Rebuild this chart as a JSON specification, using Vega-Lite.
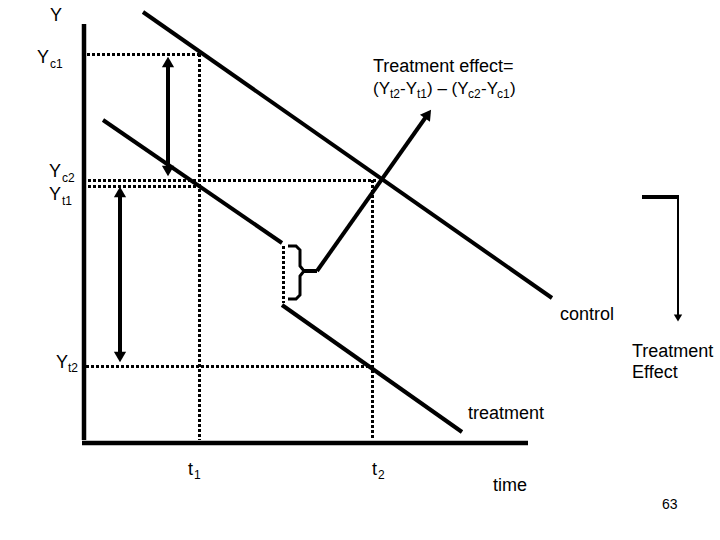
{
  "$schema": "https://vega.github.io/schema/vega-lite/v6.json",
  "width": 720,
  "height": 540,
  "padding": 0,
  "autosize": {"type": "fit", "contains": "padding"},
  "background": "white",
  "config": {"view": {"stroke": null}, "text": {"font": "Liberation Sans", "color": "black", "align": "left", "baseline": "alphabetic"}},
  "datasets": {
    "solid": [
      {"name": "control", "x": 143, "y": 12, "x2": 552, "y2": 298},
      {"name": "treatment pre", "x": 103, "y": 120, "x2": 282, "y2": 243},
      {"name": "treatment post", "x": 282, "y": 305, "x2": 462, "y2": 432},
      {"name": "arrow c", "x": 168, "y": 62, "x2": 168, "y2": 171},
      {"name": "arrow t", "x": 120, "y": 192, "x2": 120, "y2": 357},
      {"name": "effect arrow", "x": 317, "y": 271, "x2": 428, "y2": 114},
      {"name": "brace tick", "x": 303, "y": 271, "x2": 317, "y2": 271},
      {"name": "right bar", "x": 642, "y": 197, "x2": 679, "y2": 197}
    ],
    "thin": [
      {"name": "right arrow", "x": 678, "y": 197, "x2": 678, "y2": 317}
    ],
    "axes": [
      {"name": "y axis", "x": 84, "y": 24, "x2": 84, "y2": 440},
      {"name": "x axis", "x": 82, "y": 443, "x2": 528, "y2": 443}
    ],
    "dotted": [
      {"name": "Yc1", "x": 87, "y": 54.5, "x2": 199, "y2": 54.5},
      {"name": "t1", "x": 199.5, "y": 54, "x2": 199.5, "y2": 440},
      {"name": "Yc2", "x": 88, "y": 180.5, "x2": 378, "y2": 180.5},
      {"name": "Yt1", "x": 88, "y": 186.5, "x2": 199, "y2": 186.5},
      {"name": "t2", "x": 372.5, "y": 180, "x2": 372.5, "y2": 440},
      {"name": "Yt2", "x": 86, "y": 366.5, "x2": 372, "y2": 366.5},
      {"name": "gap", "x": 283.5, "y": 246, "x2": 283.5, "y2": 303}
    ],
    "brace": [
      {"i": 0, "x": 288, "y": 246},
      {"i": 1, "x": 296, "y": 246},
      {"i": 2, "x": 300, "y": 250},
      {"i": 3, "x": 300, "y": 266},
      {"i": 4, "x": 304, "y": 271},
      {"i": 5, "x": 300, "y": 276},
      {"i": 6, "x": 300, "y": 295},
      {"i": 7, "x": 296, "y": 299},
      {"i": 8, "x": 288, "y": 299}
    ],
    "headsUp": [
      {"x": 168, "y": 62},
      {"x": 120, "y": 192}
    ],
    "headsDown": [
      {"x": 168, "y": 171},
      {"x": 120, "y": 357}
    ],
    "headSmall": [
      {"x": 678, "y": 318}
    ],
    "headDiag": [
      {"x": 428, "y": 114}
    ],
    "labels": [
      {"x": 50, "y": 21, "text": "Y"},
      {"x": 37, "y": 63, "text": "Y"},
      {"x": 49, "y": 177, "text": "Y"},
      {"x": 49, "y": 200, "text": "Y"},
      {"x": 56, "y": 368, "text": "Y"},
      {"x": 188, "y": 475, "text": "t"},
      {"x": 372, "y": 475, "text": "t"},
      {"x": 373, "y": 72, "text": "Treatment effect="},
      {"x": 560, "y": 320, "text": "control"},
      {"x": 632, "y": 357, "text": "Treatment"},
      {"x": 632, "y": 378, "text": "Effect"},
      {"x": 468, "y": 419, "text": "treatment"},
      {"x": 493, "y": 491, "text": "time"}
    ],
    "formula": [
      {"x": 373, "y": 94, "text": "(Y"},
      {"x": 400, "y": 94, "text": "-Y"},
      {"x": 427, "y": 94, "text": ") – (Y"},
      {"x": 481, "y": 94, "text": "-Y"},
      {"x": 510, "y": 94, "text": ")"}
    ],
    "subs": [
      {"x": 50, "y": 68, "text": "c1"},
      {"x": 62, "y": 182, "text": "c2"},
      {"x": 62, "y": 205, "text": "t1"},
      {"x": 68, "y": 372, "text": "t2"},
      {"x": 194, "y": 479, "text": "1"},
      {"x": 378, "y": 479, "text": "2"},
      {"x": 390, "y": 98, "text": "t2"},
      {"x": 417, "y": 98, "text": "t1"},
      {"x": 468, "y": 98, "text": "c2"},
      {"x": 497, "y": 98, "text": "c1"}
    ],
    "page": [
      {"x": 662, "y": 509, "text": "63"}
    ]
  },
  "layer": [
    {
      "data": {"name": "dotted"},
      "mark": {"type": "rule", "color": "black", "strokeWidth": 3, "strokeDash": [3, 2]},
      "encoding": {
        "x": {"field": "x", "type": "quantitative", "scale": {"domain": [0, 720], "nice": false, "zero": false}, "axis": null},
        "y": {"field": "y", "type": "quantitative", "scale": {"domain": [0, 540], "nice": false, "zero": false, "reverse": true}, "axis": null},
        "x2": {"field": "x2"},
        "y2": {"field": "y2"}
      }
    },
    {
      "data": {"name": "axes"},
      "mark": {"type": "rule", "color": "black", "strokeWidth": 4.5},
      "encoding": {
        "x": {"field": "x", "type": "quantitative", "axis": null},
        "y": {"field": "y", "type": "quantitative", "axis": null},
        "x2": {"field": "x2"},
        "y2": {"field": "y2"}
      }
    },
    {
      "data": {"name": "solid"},
      "mark": {"type": "rule", "color": "black", "strokeWidth": 4},
      "encoding": {
        "x": {"field": "x", "type": "quantitative", "axis": null},
        "y": {"field": "y", "type": "quantitative", "axis": null},
        "x2": {"field": "x2"},
        "y2": {"field": "y2"}
      }
    },
    {
      "data": {"name": "thin"},
      "mark": {"type": "rule", "color": "black", "strokeWidth": 2},
      "encoding": {
        "x": {"field": "x", "type": "quantitative", "axis": null},
        "y": {"field": "y", "type": "quantitative", "axis": null},
        "x2": {"field": "x2"},
        "y2": {"field": "y2"}
      }
    },
    {
      "data": {"name": "brace"},
      "mark": {"type": "line", "color": "black", "strokeWidth": 3, "interpolate": "linear"},
      "encoding": {
        "x": {"field": "x", "type": "quantitative", "axis": null},
        "y": {"field": "y", "type": "quantitative", "axis": null},
        "order": {"field": "i", "type": "quantitative"}
      }
    },
    {
      "data": {"name": "headsUp"},
      "mark": {"type": "point", "shape": "triangle-up", "filled": true, "color": "black", "size": 150, "opacity": 1},
      "encoding": {
        "x": {"field": "x", "type": "quantitative", "axis": null},
        "y": {"field": "y", "type": "quantitative", "axis": null}
      }
    },
    {
      "data": {"name": "headsDown"},
      "mark": {"type": "point", "shape": "triangle-down", "filled": true, "color": "black", "size": 150, "opacity": 1},
      "encoding": {
        "x": {"field": "x", "type": "quantitative", "axis": null},
        "y": {"field": "y", "type": "quantitative", "axis": null}
      }
    },
    {
      "data": {"name": "headSmall"},
      "mark": {"type": "point", "shape": "triangle-down", "filled": true, "color": "black", "size": 70, "opacity": 1},
      "encoding": {
        "x": {"field": "x", "type": "quantitative", "axis": null},
        "y": {"field": "y", "type": "quantitative", "axis": null}
      }
    },
    {
      "data": {"name": "headDiag"},
      "mark": {"type": "point", "shape": "triangle-up", "filled": true, "color": "black", "size": 150, "opacity": 1, "angle": 35},
      "encoding": {
        "x": {"field": "x", "type": "quantitative", "axis": null},
        "y": {"field": "y", "type": "quantitative", "axis": null}
      }
    },
    {
      "data": {"name": "labels"},
      "mark": {"type": "text", "fontSize": 18},
      "encoding": {
        "x": {"field": "x", "type": "quantitative", "axis": null},
        "y": {"field": "y", "type": "quantitative", "axis": null},
        "text": {"field": "text"}
      }
    },
    {
      "data": {"name": "formula"},
      "mark": {"type": "text", "fontSize": 17},
      "encoding": {
        "x": {"field": "x", "type": "quantitative", "axis": null},
        "y": {"field": "y", "type": "quantitative", "axis": null},
        "text": {"field": "text"}
      }
    },
    {
      "data": {"name": "subs"},
      "mark": {"type": "text", "fontSize": 12},
      "encoding": {
        "x": {"field": "x", "type": "quantitative", "axis": null},
        "y": {"field": "y", "type": "quantitative", "axis": null},
        "text": {"field": "text"}
      }
    },
    {
      "data": {"name": "page"},
      "mark": {"type": "text", "fontSize": 14},
      "encoding": {
        "x": {"field": "x", "type": "quantitative", "axis": null},
        "y": {"field": "y", "type": "quantitative", "axis": null},
        "text": {"field": "text"}
      }
    }
  ]
}
